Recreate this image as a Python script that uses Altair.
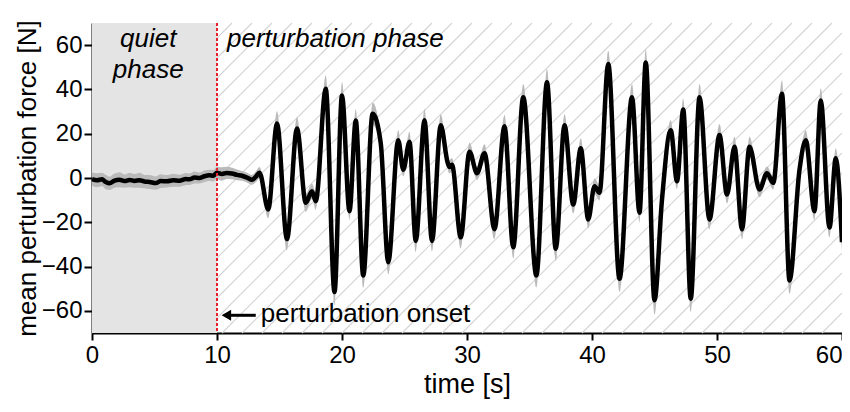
import altair as alt
import pandas as pd

# ---- data ----
time_s = [0.0, 0.4, 0.8, 1.1, 1.4, 1.8, 2.2, 2.6, 3.0, 3.4, 3.8, 4.2, 4.6, 5.1, 5.5,
          6.0, 6.5, 7.0, 7.5, 7.8, 8.2, 8.6, 9.0, 9.4, 9.7, 10.0, 10.4, 10.8, 11.2,
          11.6, 12.0, 12.4, 12.8, 13.1, 13.4,
          14.1, 14.8, 15.6, 16.4, 17.1, 17.6, 17.9, 18.7, 19.4, 20.0, 20.6, 21.1,
          21.7, 22.45, 23.1, 23.7, 24.5, 24.9, 25.4, 25.9, 26.6, 27.2, 27.9, 28.45,
          28.6, 28.8, 29.5, 30.2, 30.8, 31.4, 32.2, 33.0, 33.7, 34.5, 35.55, 36.4,
          37.1, 37.8, 38.5, 39.1, 39.7, 40.2, 40.6, 41.3, 42.2, 43.2, 43.8, 44.3,
          45.0, 45.6, 46.3, 46.8, 47.3, 47.9, 48.6, 49.4, 50.2, 50.8, 51.4, 52.0,
          52.6, 53.4, 54.0, 54.5, 55.2, 55.8, 56.6, 57.1, 57.8, 58.3, 59.0, 59.5, 60.0]
force_n = [-0.5, -1.0, -0.6, -1.8, -2.4, -1.2, -0.8, -1.4, -0.9, -1.3, -1.0, -1.6, -1.8, -2.3, -1.4,
           -1.5, -1.0, -1.2, -0.5, -0.6, 0.2, 0.0, 0.8, 1.2, 1.0, 2.4, 1.8, 2.3, 2.0,
           1.4, 1.0, 0.2, -0.8, 0.5, 2.4,
           -14.2, 24.6, -27.6, 22.4, -11.2, -6.0, -10.5, 40.3, -51.5, 37.3, -15.0, 26.0,
           -44.0, 29.0, 15.7, -38.0, 17.1, 3.7, 16.4, -28.4, 26.1, -28.4, 23.8, 7.0,
           5.0, 6.0, -26.8, 11.9, 2.2, 11.2, -23.1, 23.4, -31.3, 36.5, -44.0, 43.2,
           -32.0, 23.8, -12.0, 13.4, -18.7, -3.7, -6.7, 51.5, -45.5, 36.5, -15.7, 52.2,
           -55.2, -9.7, 21.6, -1.5, 30.9, -54.5, 36.5, -18.7, 19.4, -7.5, 14.1, -23.1,
           14.1, -5.2, 2.2, -2.2, 38.0, -46.3, 3.7, 17.1, -15.0, 35.0, -22.4, 8.9, -29.0]
sd_n = [3.0, 3.2, 3.0, 3.3, 3.0, 3.2, 3.4, 3.0, 3.3, 3.1, 3.4, 3.0, 3.2, 3.0, 3.1,
        2.8, 2.9, 2.7, 2.8, 2.6, 2.7, 2.5, 2.6, 2.5, 2.6, 2.8, 3.0, 2.8, 2.6,
        2.4, 2.2, 2.2, 2.2, 2.4, 2.6,
        4.0, 5.5, 5.0, 5.0, 4.0, 3.5, 4.0, 6.0, 6.0, 6.0, 4.0, 5.0,
        5.5, 5.0, 3.5, 5.5, 4.5, 3.0, 4.5, 5.0, 5.0, 5.0, 5.0, 3.0,
        3.0, 3.0, 5.0, 4.0, 3.0, 4.0, 4.5, 5.0, 5.0, 6.0, 5.5, 6.0,
        5.5, 5.0, 4.0, 4.5, 4.0, 3.5, 3.5, 6.0, 6.0, 6.0, 4.5, 6.0,
        6.5, 3.5, 4.5, 3.5, 5.0, 6.0, 6.0, 4.5, 5.0, 4.0, 4.5, 4.5,
        4.5, 3.5, 3.0, 3.0, 6.0, 6.0, 3.5, 4.5, 4.0, 5.5, 4.5, 4.5, 4.0]

x_ticks = [0, 10, 20, 30, 40, 50, 60]
y_ticks = [-60, -40, -20, 0, 20, 40, 60]
quiet_start, onset = 0, 10
phase_labels = ["quiet", "phase"]
phase_label_t = [4.5, 4.5]
phase_label_v = [59.2, 45.2]
pert_label = "perturbation phase"
onset_label = "perturbation onset"

# ---- layout / style constants ----
W, H = 750, 310
XMIN, XMAX = 0, 60
YMIN, YMAX = -70, 70
FONT = "Liberation Sans"
K = (W / (XMAX - XMIN)) / (H / (YMAX - YMIN))  # 45 degree hatch slope in data units
HATCH_STEP = 1.6
HALF = (YMAX - YMIN) / 2 / K

df = pd.DataFrame({"t": time_s, "f": force_n, "sd": sd_n})

xscale = alt.Scale(domain=[XMIN, XMAX], nice=False, zero=False)
yscale = alt.Scale(domain=[YMIN, YMAX], nice=False, zero=False)
xaxis = alt.Axis(values=x_ticks, title="time [s]", format="d",
                 labelAlign={"condition": {"test": "datum.value == 60", "value": "right"}, "value": "center"})
yaxis = alt.Axis(values=y_ticks, title="mean perturbation force [N]", format="d")


def X(field):
    return alt.X(field, type="quantitative", scale=xscale, axis=xaxis)


def Y(field):
    return alt.Y(field, type="quantitative", scale=yscale, axis=yaxis)


quiet = alt.Chart(pd.DataFrame({"a": [quiet_start], "b": [onset]})).mark_rect(
    color="#e4e4e4").encode(x=X("a"), x2="b")

hatch = alt.Chart(alt.sequence(onset - HALF - 2, XMAX + HALF + 2, HATCH_STEP, as_="c")).transform_calculate(
    x0=f"max({onset}, datum.c - {HALF})",
    x1=f"min({XMAX}, datum.c + {HALF})",
).transform_calculate(
    y0=f"{K} * (datum.x0 - datum.c)",
    y1=f"{K} * (datum.x1 - datum.c)",
).transform_filter("datum.x0 < datum.x1").mark_rule(
    color="#d4d4d4", strokeWidth=1.1).encode(x=X("x0"), x2="x1", y=Y("y0"), y2="y1")

band = alt.Chart(df).transform_calculate(
    lo="datum.f - datum.sd", hi="datum.f + datum.sd"
).mark_area(color="#bababa", interpolate="monotone").encode(x=X("t"), y=Y("lo"), y2="hi")

line = alt.Chart(df).mark_line(color="black", strokeWidth=4.5, interpolate="monotone").encode(
    x=X("t"), y=Y("f"))

red = alt.Chart(pd.DataFrame({"t": [onset]})).mark_rule(
    color="#e8202a", strokeWidth=2, strokeDash=[3, 2]).encode(x=X("t"))

arrow_df = pd.DataFrame({"a": [10.7], "b": [13.1], "v": [-62]})
shaft = alt.Chart(arrow_df).mark_rule(color="black", strokeWidth=3).encode(
    x=X("a"), x2="b", y=Y("v"))
head = alt.Chart(pd.DataFrame({"a": [10.75], "v": [-62]})).mark_point(
    shape="triangle-left", filled=True, color="black", size=120, opacity=1).encode(
    x=X("a"), y=Y("v"))

onset_txt = alt.Chart(pd.DataFrame({"a": [13.5], "v": [-65], "s": [onset_label]})).mark_text(
    align="left", baseline="alphabetic", font=FONT, fontSize=26, color="black").encode(
    x=X("a"), y=Y("v"), text="s:N")

pert_txt = alt.Chart(pd.DataFrame({"a": [10.8], "v": [59.2], "s": [pert_label]})).mark_text(
    align="left", baseline="alphabetic", font=FONT, fontSize=26, fontStyle="italic",
    color="black").encode(x=X("a"), y=Y("v"), text="s:N")

quiet_txt = alt.Chart(pd.DataFrame({"a": phase_label_t, "v": phase_label_v, "s": phase_labels})).mark_text(
    align="center", baseline="alphabetic", font=FONT, fontSize=26, fontStyle="italic",
    color="black").encode(x=X("a"), y=Y("v"), text="s:N")

chart = alt.layer(quiet, hatch, band, line, red, shaft, head, onset_txt, pert_txt, quiet_txt).properties(
    width=W, height=H,
    autosize=alt.AutoSizeParams(type="none"),
    padding={"left": 84, "top": 15, "right": 0, "bottom": 71},
).configure_view(stroke=None).configure_axis(
    grid=False, domainColor="black", domainWidth=2, tickColor="black", tickWidth=2,
    tickSize=8, labelColor="black", labelFont=FONT, labelFontSize=24, labelPadding=2,
    titleFont=FONT, titleFontSize=27, titleFontWeight="normal", titleColor="black",
).configure_axisY(titlePadding=1, titleFontSize=26).configure_axisX(tickSize=7, labelPadding=3, titlePadding=4)

chart.save("out.html", embed_options={"renderer": "svg", "actions": False})
